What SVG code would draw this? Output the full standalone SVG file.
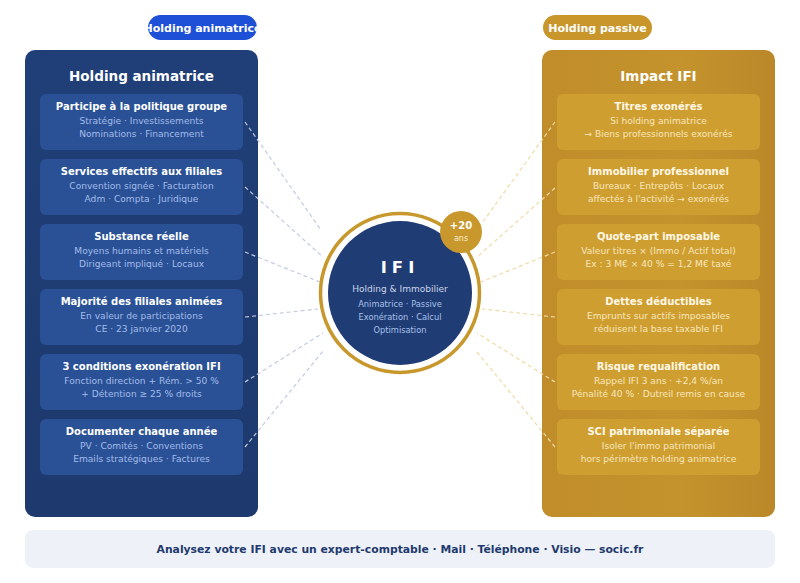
<svg xmlns="http://www.w3.org/2000/svg" width="800" height="583" viewBox="0 0 800 583">
<defs>
<linearGradient id="gL" x1="0" y1="0" x2="0" y2="1"><stop offset="0" stop-color="#203f78"/><stop offset="1" stop-color="#1d396d"/></linearGradient>
<linearGradient id="gR" x1="0" y1="0" x2="1" y2="0"><stop offset="0" stop-color="#c08d2a"/><stop offset="0.6" stop-color="#c4932d"/><stop offset="1" stop-color="#bb8829"/></linearGradient>
<style>
text{font-family:"DejaVu Sans","Liberation Sans",sans-serif;text-anchor:middle}
.pill{font-size:11px;font-weight:bold;fill:#fff}
.ptitle{font-size:13.5px;font-weight:bold;fill:#fff}
.cardL{fill:#2a5196}
.cardR{fill:#cf9e30}
.tL{font-size:10px;font-weight:bold;fill:#ffffff}
.sL{font-size:9.1px;fill:#a3bce9}
.tR{font-size:10px;font-weight:bold;fill:#fff8e6}
.sR{font-size:9.1px;fill:#f7e7bd}
.cl{stroke:#c3cbe0;stroke-width:1.2;stroke-dasharray:4 3;fill:none}
.cr{stroke:#efdba6;stroke-width:1.2;stroke-dasharray:4 3;fill:none}
</style>
</defs>
<rect width="800" height="583" fill="#ffffff"/>

<g id="pill-left"><rect x="148" y="15" width="109" height="25" rx="12.5" fill="#1d50d6"/><text class="pill" x="202.5" y="32">Holding animatrice</text></g>
<g id="pill-right"><rect x="543" y="15" width="109" height="25" rx="12.5" fill="#c8962b"/><text class="pill" x="597.5" y="32">Holding passive</text></g>

<g id="panel-left"><rect x="25" y="50" width="233" height="467" rx="10" fill="url(#gL)"/><text class="ptitle" x="141.5" y="81">Holding animatrice</text></g>
<g id="panel-right"><rect x="542" y="50" width="233" height="467" rx="10" fill="url(#gR)"/><text class="ptitle" x="658.5" y="81">Impact IFI</text></g>

<g id="connectors">
<path class="cl" d="M245 122 L321 230"/>
<path class="cl" d="M245 187 L323 257"/>
<path class="cl" d="M245 252 L320 282"/>
<path class="cl" d="M245 317 L318 309"/>
<path class="cl" d="M245 382 L323 333"/>
<path class="cl" d="M245 447 L323 351"/>
<path class="cr" d="M555 122 L480 226"/>
<path class="cr" d="M555 188 L477 257"/>
<path class="cr" d="M555 252 L481 282"/>
<path class="cr" d="M555 317 L482 309"/>
<path class="cr" d="M555 382 L477 333"/>
<path class="cr" d="M555 447 L477 352"/>
</g>

<g id="L1"><rect class="cardL" x="40" y="94" width="203" height="56" rx="6"/><text class="tL" x="141.5" y="110">Participe à la politique groupe</text><text class="sL" x="141.5" y="124">Stratégie · Investissements</text><text class="sL" x="141.5" y="137">Nominations · Financement</text></g>
<g id="L2"><rect class="cardL" x="40" y="159" width="203" height="56" rx="6"/><text class="tL" x="141.5" y="175">Services effectifs aux filiales</text><text class="sL" x="141.5" y="189">Convention signée · Facturation</text><text class="sL" x="141.5" y="202">Adm · Compta · Juridique</text></g>
<g id="L3"><rect class="cardL" x="40" y="224" width="203" height="56" rx="6"/><text class="tL" x="141.5" y="240">Substance réelle</text><text class="sL" x="141.5" y="254">Moyens humains et matériels</text><text class="sL" x="141.5" y="267">Dirigeant impliqué · Locaux</text></g>
<g id="L4"><rect class="cardL" x="40" y="289" width="203" height="56" rx="6"/><text class="tL" x="141.5" y="305">Majorité des filiales animées</text><text class="sL" x="141.5" y="319">En valeur de participations</text><text class="sL" x="141.5" y="332">CE · 23 janvier 2020</text></g>
<g id="L5"><rect class="cardL" x="40" y="354" width="203" height="56" rx="6"/><text class="tL" x="141.5" y="370">3 conditions exonération IFI</text><text class="sL" x="141.5" y="384">Fonction direction + Rém. &gt; 50 %</text><text class="sL" x="141.5" y="397">+ Détention ≥ 25 % droits</text></g>
<g id="L6"><rect class="cardL" x="40" y="419" width="203" height="56" rx="6"/><text class="tL" x="141.5" y="435">Documenter chaque année</text><text class="sL" x="141.5" y="449">PV · Comités · Conventions</text><text class="sL" x="141.5" y="462">Emails stratégiques · Factures</text></g>

<g id="R1"><rect class="cardR" x="557" y="94" width="203" height="56" rx="6"/><text class="tR" x="658.5" y="110">Titres exonérés</text><text class="sR" x="658.5" y="124">Si holding animatrice</text><text class="sR" x="658.5" y="137">→ Biens professionnels exonérés</text></g>
<g id="R2"><rect class="cardR" x="557" y="159" width="203" height="56" rx="6"/><text class="tR" x="658.5" y="175">Immobilier professionnel</text><text class="sR" x="658.5" y="189">Bureaux · Entrepôts · Locaux</text><text class="sR" x="658.5" y="202">affectés à l'activité → exonérés</text></g>
<g id="R3"><rect class="cardR" x="557" y="224" width="203" height="56" rx="6"/><text class="tR" x="658.5" y="240">Quote-part imposable</text><text class="sR" x="658.5" y="254">Valeur titres × (Immo / Actif total)</text><text class="sR" x="658.5" y="267">Ex : 3 M€ × 40 % = 1,2 M€ taxé</text></g>
<g id="R4"><rect class="cardR" x="557" y="289" width="203" height="56" rx="6"/><text class="tR" x="658.5" y="305">Dettes déductibles</text><text class="sR" x="658.5" y="319">Emprunts sur actifs imposables</text><text class="sR" x="658.5" y="332">réduisent la base taxable IFI</text></g>
<g id="R5"><rect class="cardR" x="557" y="354" width="203" height="56" rx="6"/><text class="tR" x="658.5" y="370">Risque requalification</text><text class="sR" x="658.5" y="384">Rappel IFI 3 ans · +2,4 %/an</text><text class="sR" x="658.5" y="397">Pénalité 40 % · Dutreil remis en cause</text></g>
<g id="R6"><rect class="cardR" x="557" y="419" width="203" height="56" rx="6"/><text class="tR" x="658.5" y="435">SCI patrimoniale séparée</text><text class="sR" x="658.5" y="449">Isoler l'immo patrimonial</text><text class="sR" x="658.5" y="462">hors périmètre holding animatrice</text></g>

<g id="center">
<circle cx="400" cy="293" r="79.5" fill="#ffffff" stroke="#c8982c" stroke-width="3.5"/>
<circle cx="400" cy="293" r="72" fill="#1f3c74"/>
<text x="400" y="273" font-size="16.5" font-weight="bold" fill="#ffffff" letter-spacing="5">IFI</text>
<text x="400" y="292" font-size="9" fill="#cdd6ea">Holding &amp; Immobilier</text>
<text x="400" y="307" font-size="8.3" fill="#a9c0ea">Animatrice · Passive</text>
<text x="400" y="320" font-size="8.3" fill="#a9c0ea">Exonération · Calcul</text>
<text x="400" y="333" font-size="8.3" fill="#a9c0ea">Optimisation</text>
</g>
<g id="badge">
<circle cx="461" cy="232" r="21" fill="#c8982c"/>
<text x="461" y="229" font-size="10" font-weight="bold" fill="#ffffff">+20</text>
<text x="461" y="241" font-size="8" fill="#fbefd0">ans</text>
</g>

<g id="footer"><rect x="25" y="530" width="750" height="38" rx="8" fill="#eef2f8"/><text x="400" y="553" font-size="10.8" font-weight="bold" fill="#1e3a6e">Analysez votre IFI avec un expert-comptable · Mail · Téléphone · Visio — socic.fr</text></g>
</svg>
